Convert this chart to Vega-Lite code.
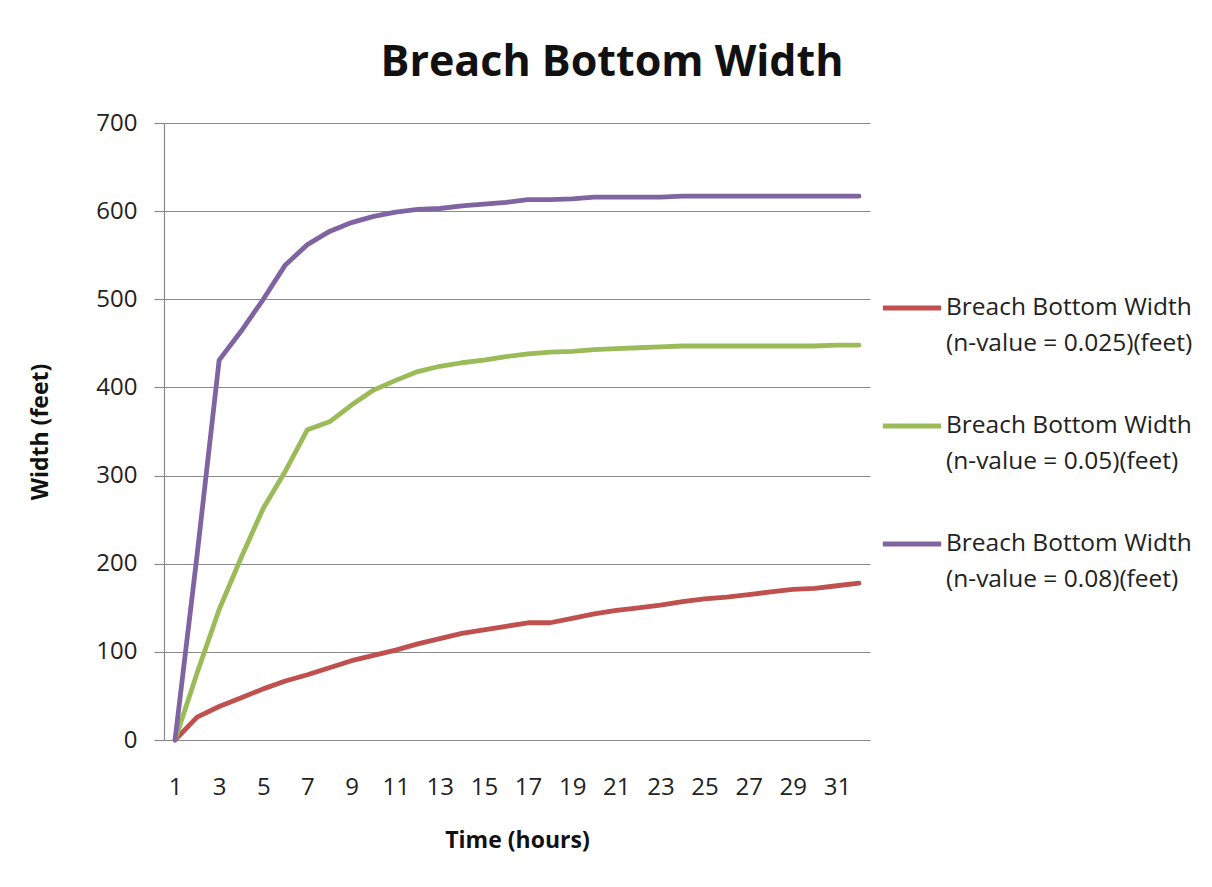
{
  "$schema": "https://vega.github.io/schema/vega-lite/v6.json",
  "width": 706,
  "height": 617,
  "autosize": {"type": "none"},
  "padding": {"left": 164, "top": 123, "right": 342, "bottom": 147},
  "background": "white",
  "title": {
    "text": "Breach Bottom Width",
    "font": "Open Sans",
    "fontSize": 43,
    "fontWeight": "bold",
    "color": "#111111",
    "anchor": "middle",
    "dx": 95,
    "offset": 26
  },
  "data": {
    "values": [
      {"hour": 1, "n": "0.025", "width": 0},
      {"hour": 2, "n": "0.025", "width": 26},
      {"hour": 3, "n": "0.025", "width": 38},
      {"hour": 4, "n": "0.025", "width": 48},
      {"hour": 5, "n": "0.025", "width": 58},
      {"hour": 6, "n": "0.025", "width": 67},
      {"hour": 7, "n": "0.025", "width": 74},
      {"hour": 8, "n": "0.025", "width": 82},
      {"hour": 9, "n": "0.025", "width": 90},
      {"hour": 10, "n": "0.025", "width": 96},
      {"hour": 11, "n": "0.025", "width": 102},
      {"hour": 12, "n": "0.025", "width": 109},
      {"hour": 13, "n": "0.025", "width": 115},
      {"hour": 14, "n": "0.025", "width": 121},
      {"hour": 15, "n": "0.025", "width": 125},
      {"hour": 16, "n": "0.025", "width": 129},
      {"hour": 17, "n": "0.025", "width": 133},
      {"hour": 18, "n": "0.025", "width": 133},
      {"hour": 19, "n": "0.025", "width": 138},
      {"hour": 20, "n": "0.025", "width": 143},
      {"hour": 21, "n": "0.025", "width": 147},
      {"hour": 22, "n": "0.025", "width": 150},
      {"hour": 23, "n": "0.025", "width": 153},
      {"hour": 24, "n": "0.025", "width": 157},
      {"hour": 25, "n": "0.025", "width": 160},
      {"hour": 26, "n": "0.025", "width": 162},
      {"hour": 27, "n": "0.025", "width": 165},
      {"hour": 28, "n": "0.025", "width": 168},
      {"hour": 29, "n": "0.025", "width": 171},
      {"hour": 30, "n": "0.025", "width": 172},
      {"hour": 31, "n": "0.025", "width": 175},
      {"hour": 32, "n": "0.025", "width": 178},
      {"hour": 1, "n": "0.05", "width": 0},
      {"hour": 2, "n": "0.05", "width": 76},
      {"hour": 3, "n": "0.05", "width": 148},
      {"hour": 4, "n": "0.05", "width": 207},
      {"hour": 5, "n": "0.05", "width": 263},
      {"hour": 6, "n": "0.05", "width": 305},
      {"hour": 7, "n": "0.05", "width": 352},
      {"hour": 8, "n": "0.05", "width": 361},
      {"hour": 9, "n": "0.05", "width": 380},
      {"hour": 10, "n": "0.05", "width": 397},
      {"hour": 11, "n": "0.05", "width": 408},
      {"hour": 12, "n": "0.05", "width": 418},
      {"hour": 13, "n": "0.05", "width": 424},
      {"hour": 14, "n": "0.05", "width": 428},
      {"hour": 15, "n": "0.05", "width": 431},
      {"hour": 16, "n": "0.05", "width": 435},
      {"hour": 17, "n": "0.05", "width": 438},
      {"hour": 18, "n": "0.05", "width": 440},
      {"hour": 19, "n": "0.05", "width": 441},
      {"hour": 20, "n": "0.05", "width": 443},
      {"hour": 21, "n": "0.05", "width": 444},
      {"hour": 22, "n": "0.05", "width": 445},
      {"hour": 23, "n": "0.05", "width": 446},
      {"hour": 24, "n": "0.05", "width": 447},
      {"hour": 25, "n": "0.05", "width": 447},
      {"hour": 26, "n": "0.05", "width": 447},
      {"hour": 27, "n": "0.05", "width": 447},
      {"hour": 28, "n": "0.05", "width": 447},
      {"hour": 29, "n": "0.05", "width": 447},
      {"hour": 30, "n": "0.05", "width": 447},
      {"hour": 31, "n": "0.05", "width": 448},
      {"hour": 32, "n": "0.05", "width": 448},
      {"hour": 1, "n": "0.08", "width": 0},
      {"hour": 2, "n": "0.08", "width": 210},
      {"hour": 3, "n": "0.08", "width": 431},
      {"hour": 4, "n": "0.08", "width": 464},
      {"hour": 5, "n": "0.08", "width": 500},
      {"hour": 6, "n": "0.08", "width": 539},
      {"hour": 7, "n": "0.08", "width": 562},
      {"hour": 8, "n": "0.08", "width": 577},
      {"hour": 9, "n": "0.08", "width": 587},
      {"hour": 10, "n": "0.08", "width": 594},
      {"hour": 11, "n": "0.08", "width": 599},
      {"hour": 12, "n": "0.08", "width": 602},
      {"hour": 13, "n": "0.08", "width": 603},
      {"hour": 14, "n": "0.08", "width": 606},
      {"hour": 15, "n": "0.08", "width": 608},
      {"hour": 16, "n": "0.08", "width": 610},
      {"hour": 17, "n": "0.08", "width": 613},
      {"hour": 18, "n": "0.08", "width": 613},
      {"hour": 19, "n": "0.08", "width": 614},
      {"hour": 20, "n": "0.08", "width": 616},
      {"hour": 21, "n": "0.08", "width": 616},
      {"hour": 22, "n": "0.08", "width": 616},
      {"hour": 23, "n": "0.08", "width": 616},
      {"hour": 24, "n": "0.08", "width": 617},
      {"hour": 25, "n": "0.08", "width": 617},
      {"hour": 26, "n": "0.08", "width": 617},
      {"hour": 27, "n": "0.08", "width": 617},
      {"hour": 28, "n": "0.08", "width": 617},
      {"hour": 29, "n": "0.08", "width": 617},
      {"hour": 30, "n": "0.08", "width": 617},
      {"hour": 31, "n": "0.08", "width": 617},
      {"hour": 32, "n": "0.08", "width": 617}
    ]
  },
  "mark": {"type": "line", "strokeWidth": 4.8, "strokeJoin": "round", "strokeCap": "round"},
  "encoding": {
    "x": {
      "field": "hour",
      "type": "ordinal",
      "scale": {"type": "point", "padding": 0.5},
      "axis": {
        "values": [1, 3, 5, 7, 9, 11, 13, 15, 17, 19, 21, 23, 25, 27, 29, 31],
        "labelAngle": 0,
        "ticks": false,
        "tickSize": 0,
        "grid": false,
        "domain": true,
        "domainColor": "#8a8a8a",
        "domainWidth": 1.2,
        "labelFontSize": 24,
        "labelPadding": 35,
        "title": "Time (hours)",
        "titleFontSize": 23,
        "titleFontWeight": "bold",
        "titlePadding": 30
      }
    },
    "y": {
      "field": "width",
      "type": "quantitative",
      "scale": {"domain": [0, 700], "nice": false},
      "axis": {
        "values": [0, 100, 200, 300, 400, 500, 600, 700],
        "grid": true,
        "gridColor": "#8a8a8a",
        "gridWidth": 1.2,
        "domain": true,
        "domainColor": "#8a8a8a",
        "domainWidth": 1.2,
        "ticks": true,
        "tickSize": 10,
        "tickColor": "#8a8a8a",
        "tickWidth": 1.2,
        "labelFontSize": 24,
        "labelPadding": 17,
        "title": "Width (feet)",
        "titleFontSize": 23,
        "titleFontWeight": "bold",
        "titlePadding": 43
      }
    },
    "color": {
      "field": "n",
      "type": "nominal",
      "scale": {"domain": ["0.025", "0.05", "0.08"], "range": ["#C0504D", "#9BBB59", "#8064A2"]},
      "legend": {
        "title": null,
        "orient": "none",
        "legendX": 716,
        "legendY": 153,
        "padding": 0,
        "symbolType": "stroke",
        "symbolSize": 3400,
        "symbolStrokeWidth": 4.8,
        "symbolOffset": 0,
        "labelFontSize": 24.5,
        "labelFont": "Open Sans",
        "labelColor": "#222222",
        "labelOffset": 2,
        "labelLimit": 0,
        "rowPadding": 38,
        "labelExpr": "['Breach Bottom Width', '(n-value = ' + datum.label + ')(feet)']"
      }
    }
  },
  "config": {
    "font": "Open Sans",
    "view": {"stroke": null},
    "axis": {"labelColor": "#222222", "titleColor": "#111111", "labelFont": "Open Sans", "titleFont": "Open Sans"},
    "style": {"guide-label": {"lineHeight": 36}}
  }
}
